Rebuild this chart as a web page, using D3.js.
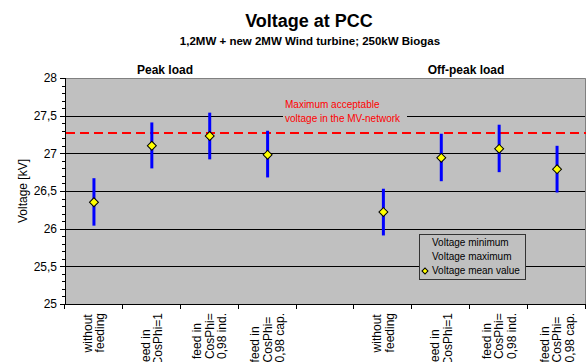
<!DOCTYPE html>
<html>
<head>
<meta charset="utf-8">
<style>
  body { margin: 0; background: #fff; }
  svg text { font-family: "Liberation Sans", Arial, sans-serif; }
</style>
</head>
<body>
<svg width="587" height="362"></svg>
<script src="https://d3js.org/d3.v7.min.js"></script>
<script>

// chart data
var categories = [
  ["without", "feeding"],
  ["feed in", "CosPhi=1"],
  ["feed in", "CosPhi=", "0,98 ind."],
  ["feed in", "CosPhi=", "0,98 cap."],
  [],
  ["without", "feeding"],
  ["feed in", "CosPhi=1"],
  ["feed in", "CosPhi=", "0,98 ind."],
  ["feed in", "CosPhi=", "0,98 cap."]
];
var voltMin  = [26.04, 26.80, 26.92, 26.68, null, 25.91, 26.63, 26.75, 26.48];
var voltMax  = [26.67, 27.41, 27.54, 27.30, null, 26.53, 27.26, 27.38, 27.10];
var voltMean = [26.35, 27.10, 27.23, 26.98, null, 26.22, 26.94, 27.06, 26.79];
var maxAcceptable = 27.27;
var yTicks = [25, 25.5, 26, 26.5, 27, 27.5, 28];
var groupLabels = ["Peak load", "Off-peak load"];
var legendLabels = ["Voltage minimum", "Voltage maximum", "Voltage mean value"];

var svg = d3.select("svg");
var pL = 65, pR = 586, pT = 78, pB = 304;

var x = d3.scaleBand()
    .domain(d3.range(categories.length))
    .range([pL, pR])
    .padding(0);

var y = d3.scaleLinear()
    .domain([25, 28])
    .range([pB, pT]);

var fmt = function(d) { return String(d).replace(".", ","); };

// titles
svg.append("text")
    .attr("x", 309).attr("y", 27)
    .attr("text-anchor", "middle")
    .attr("font-size", 18).attr("font-weight", "bold")
    .text("Voltage at PCC");

svg.append("text")
    .attr("x", 310).attr("y", 45)
    .attr("text-anchor", "middle")
    .attr("font-size", 11.5).attr("font-weight", "bold")
    .text("1,2MW + new 2MW Wind turbine; 250kW Biogas");

svg.selectAll(".group")
  .data(groupLabels)
  .enter().append("text")
    .attr("class", "group")
    .attr("x", function(d, i) { return i == 0 ? 165 : 466; })
    .attr("y", 74)
    .attr("text-anchor", "middle")
    .attr("font-size", 12).attr("font-weight", "bold")
    .text(function(d) { return d; });

// plot area
svg.append("rect")
    .attr("x", pL).attr("y", pT)
    .attr("width", pR - pL).attr("height", pB - pT)
    .attr("fill", "#c0c0c0");

// gridlines
svg.append("g")
  .selectAll("line")
  .data(yTicks.filter(function(d) { return d > 25 && d < 28; }))
  .enter().append("line")
    .attr("x1", pL).attr("x2", pR)
    .attr("y1", function(d) { return Math.round(y(d)) + 0.5; })
    .attr("y2", function(d) { return Math.round(y(d)) + 0.5; })
    .attr("stroke", "#000").attr("stroke-width", 1);

// plot border (top / right)
svg.append("path")
    .attr("d", "M" + pL + "," + (pT + 0.5) + "H" + (pR - 0.5) + "V" + pB)
    .attr("fill", "none").attr("stroke", "#808080");

// y axis
var yAxis = svg.append("g");
yAxis.append("line")
    .attr("x1", pL + 0.5).attr("x2", pL + 0.5)
    .attr("y1", pT).attr("y2", pB + 1)
    .attr("stroke", "#000");
yAxis.selectAll(".minor")
  .data(d3.range(250, 281).map(function(d) { return d / 10; }))
  .enter().append("line")
    .attr("x1", function(d) { return Math.round(d * 10) % 5 == 0 ? pL - 5 : pL - 3; })
    .attr("x2", pL)
    .attr("y1", function(d) { return Math.round(y(d)) + 0.5; })
    .attr("y2", function(d) { return Math.round(y(d)) + 0.5; })
    .attr("stroke", "#000");
yAxis.selectAll("text")
  .data(yTicks)
  .enter().append("text")
    .attr("x", 57)
    .attr("y", function(d) { return y(d); })
    .attr("dy", "0.36em")
    .attr("text-anchor", "end")
    .attr("font-size", 12)
    .text(fmt);

svg.append("text")
    .attr("transform", "translate(27," + ((pT + pB) / 2) + ") rotate(-90)")
    .attr("text-anchor", "middle")
    .attr("font-size", 12)
    .text("Voltage [kV]");

// x axis
var xAxis = svg.append("g");
xAxis.append("line")
    .attr("x1", pL).attr("x2", pR)
    .attr("y1", pB + 0.5).attr("y2", pB + 0.5)
    .attr("stroke", "#000");
xAxis.selectAll(".tick")
  .data(d3.range(categories.length + 1))
  .enter().append("line")
    .attr("x1", function(i) { return Math.round(pL + i * x.bandwidth()) - 0.5; })
    .attr("x2", function(i) { return Math.round(pL + i * x.bandwidth()) - 0.5; })
    .attr("y1", pB).attr("y2", pB + 5)
    .attr("stroke", "#000");

var labelTop = 313, lineH = 12.5;
categories.forEach(function(lines, i) {
  var cx = x(i) + x.bandwidth() / 2;
  var g = xAxis.append("g");
  var texts = g.selectAll("text")
    .data(lines)
    .enter().append("text")
      .attr("font-size", 12)
      .text(function(d) { return d; });
  var w = 0;
  texts.each(function() { w = Math.max(w, this.getComputedTextLength()); });
  texts.attr("transform", function(d, j) {
      var bx = cx + (j - (lines.length - 1) / 2) * lineH + 4;
      return "translate(" + bx + "," + (labelTop + w) + ") rotate(-90)";
    });
});

// max acceptable voltage line
svg.append("line")
    .attr("x1", pL + 1).attr("x2", pR)
    .attr("y1", y(maxAcceptable)).attr("y2", y(maxAcceptable))
    .attr("stroke", "#ff0000").attr("stroke-width", 2)
    .attr("stroke-dasharray", "9,5");

svg.append("rect")
    .attr("x", 283).attr("y", 100)
    .attr("width", 124).attr("height", 24)
    .attr("fill", "#c0c0c0");
svg.append("text")
    .attr("x", 285).attr("y", 108)
    .attr("font-size", 10).attr("fill", "#ff0000")
    .text("Maximum acceptable");
svg.append("text")
    .attr("x", 285).attr("y", 121.5)
    .attr("font-size", 10).attr("fill", "#ff0000")
    .text("voltage in the MV-network");

// min-max bars
var idx = d3.range(categories.length).filter(function(i) { return voltMean[i] != null; });
svg.append("g")
  .selectAll("line")
  .data(idx)
  .enter().append("line")
    .attr("x1", function(i) { return x(i) + x.bandwidth() / 2; })
    .attr("x2", function(i) { return x(i) + x.bandwidth() / 2; })
    .attr("y1", function(i) { return y(voltMin[i]); })
    .attr("y2", function(i) { return y(voltMax[i]); })
    .attr("stroke", "#0000ff").attr("stroke-width", 3);

// mean markers
var diamond = d3.symbol().type(d3.symbolSquare).size(40);
svg.append("g")
  .selectAll("path")
  .data(idx)
  .enter().append("path")
    .attr("d", diamond)
    .attr("transform", function(i) {
      return "translate(" + (x(i) + x.bandwidth() / 2) + "," + y(voltMean[i]) + ") rotate(45)";
    })
    .attr("fill", "#ffff00").attr("stroke", "#000").attr("stroke-width", 1);

// legend
var lg = svg.append("g").attr("transform", "translate(419,234)");
lg.append("rect")
    .attr("x", 0.5).attr("y", 0.5)
    .attr("width", 106).attr("height", 45)
    .attr("fill", "#c0c0c0").attr("stroke", "#333");
lg.selectAll("text")
  .data(legendLabels)
  .enter().append("text")
    .attr("x", 13)
    .attr("y", function(d, i) { return 12 + i * 13.8; })
    .attr("font-size", 10)
    .text(function(d) { return d; });
lg.append("path")
    .attr("d", d3.symbol().type(d3.symbolSquare).size(18))
    .attr("transform", "translate(6,37) rotate(45)")
    .attr("fill", "#ffff00").attr("stroke", "#000").attr("stroke-width", 1);

</script>
</body>
</html>
